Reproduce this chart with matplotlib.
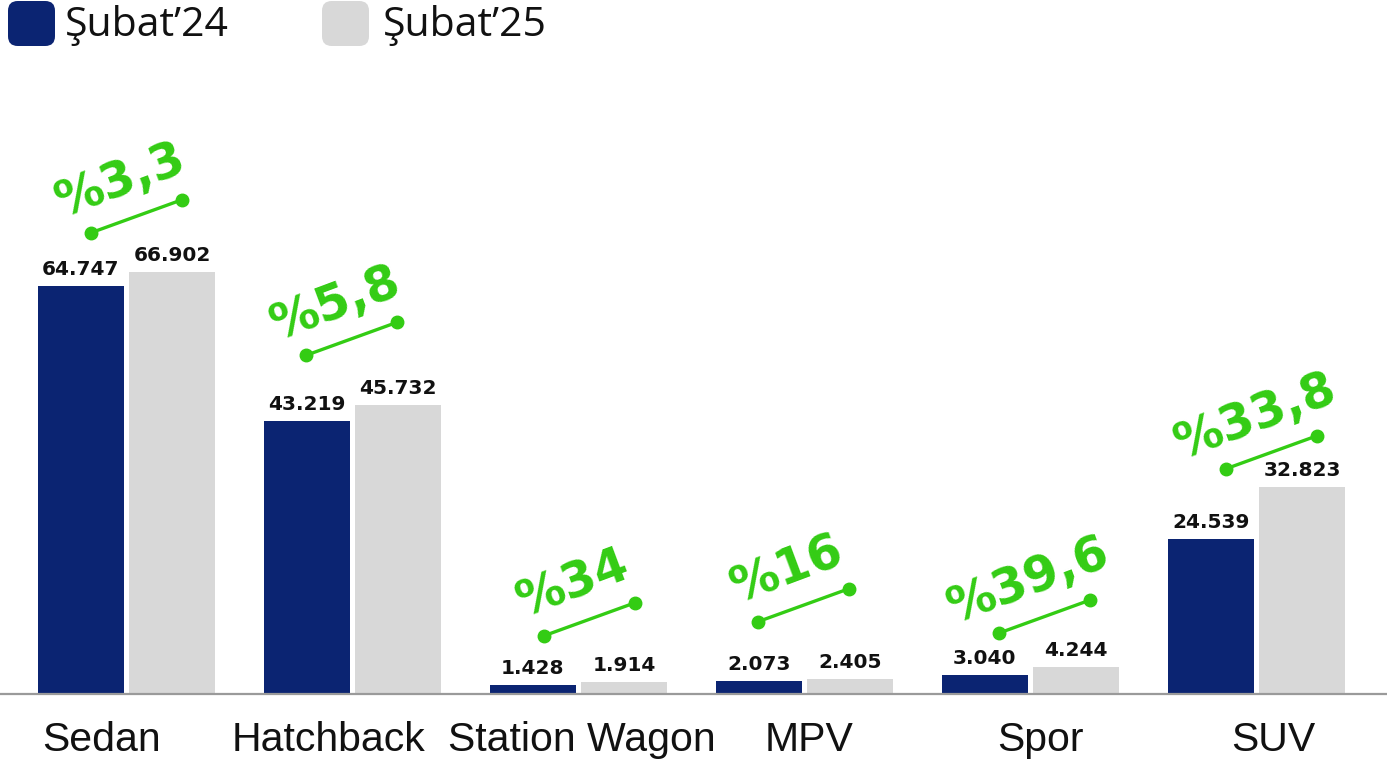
import numpy as np
import matplotlib
matplotlib.use("Agg")
import matplotlib.pyplot as plt
from matplotlib.patches import FancyBboxPatch
from matplotlib.transforms import offset_copy

# Datos
kategoriler = ["Sedan", "Hatchback", "Station Wagon", "MPV", "Spor", "SUV"]
subat24 = [64747, 43219, 1428, 2073, 3040, 24539]
subat25 = [66902, 45732, 1914, 2405, 4244, 32823]
degisim = ["%3,3", "%5,8", "%34", "%16", "%39,6", "%33,8"]
seriler = ["Şubat\u201924", "Şubat\u201925"]

# Estilo
LACIVERT = "#0b2472"
GRI = "#d8d8d8"
YESIL = "#33cc14"

# ajustes de posicion (px) de etiquetas y anotaciones
etiket_kayma = [-25, -24, 3, 4, 10, 17]
ok_kayma = [(-36, 39), (-47, 50), (-35, 46), (-47, 57), (-32, 34), (-31, 18)]

W, H = 1387, 773
fig = plt.figure(figsize=(W / 100, H / 100), dpi=100)
ax = fig.add_axes([0, (H - 694) / H, 1, 694 / H])

x = np.arange(len(kategoriler))
gen = 0.38
ax.bar(x - 0.2025, subat24, gen, color=LACIVERT)
ax.bar(x + 0.2025, subat25, gen, color=GRI)

ax.set_xlim(-0.56, 5.577)
ax.set_ylim(0, 110000)

for s in ["top", "left", "right"]:
    ax.spines[s].set_visible(False)
ax.spines["bottom"].set_color("#9a9a9a")
ax.spines["bottom"].set_linewidth(1.6)
ax.set_yticks([])
ax.set_xticks([])

# valores sobre las barras
ust = offset_copy(ax.transData, fig=fig, x=0, y=7, units="dots")
for i in range(len(x)):
    for xx, v in [(x[i] - 0.2025, subat24[i]), (x[i] + 0.2025, subat25[i])]:
        ax.text(xx, v, f"{v:,}".replace(",", "."), ha="center", va="bottom",
                transform=ust, fontsize=14.5, fontweight="bold",
                family="DejaVu Sans", color="#111111")

# etiquetas de categorias
for i, k in enumerate(kategoriler):
    tr = offset_copy(ax.transData, fig=fig, x=etiket_kayma[i], y=-46, units="dots")
    ax.text(x[i], 0, k, ha="center", va="center", transform=tr,
            fontsize=29.5, family="Liberation Sans", color="#111111")

# anotaciones de cambio porcentual
inv = ax.transData.inverted()
for i in range(len(x)):
    px, py = ax.transData.transform((x[i], max(subat24[i], subat25[i])))
    x0, y0 = px + ok_kayma[i][0], py + ok_kayma[i][1]
    x1, y1 = x0 + 91, y0 + 33
    a = inv.transform([(x0, y0), (x1, y1)])
    ax.plot(a[:, 0], a[:, 1], color=YESIL, lw=2.4, marker="o", ms=9,
            solid_capstyle="round", clip_on=False)
    tx, ty = inv.transform((x0 + 29.5, y0 + 52))
    ax.text(tx, ty, degisim[i], rotation=20.5, rotation_mode="anchor",
            ha="center", va="center", fontsize=35, fontweight="bold",
            family="DejaVu Sans", color=YESIL)

# leyenda
lx = [8, 322]
tx = [65, 383]
for j, (renk, ad) in enumerate(zip([LACIVERT, GRI], seriler)):
    kutu = FancyBboxPatch((lx[j] / W, (H - 46) / H), 47 / W, 45 / H,
                          boxstyle="round,pad=0,rounding_size=0.007",
                          transform=fig.transFigure, facecolor=renk,
                          edgecolor="none", mutation_aspect=W / H)
    fig.patches.append(kutu)
    fig.text(tx[j] / W, (H - 26) / H, ad, ha="left", va="center",
             fontsize=29.5, family="Open Sans", color="#111111")

fig.savefig("out.png", dpi=100)
